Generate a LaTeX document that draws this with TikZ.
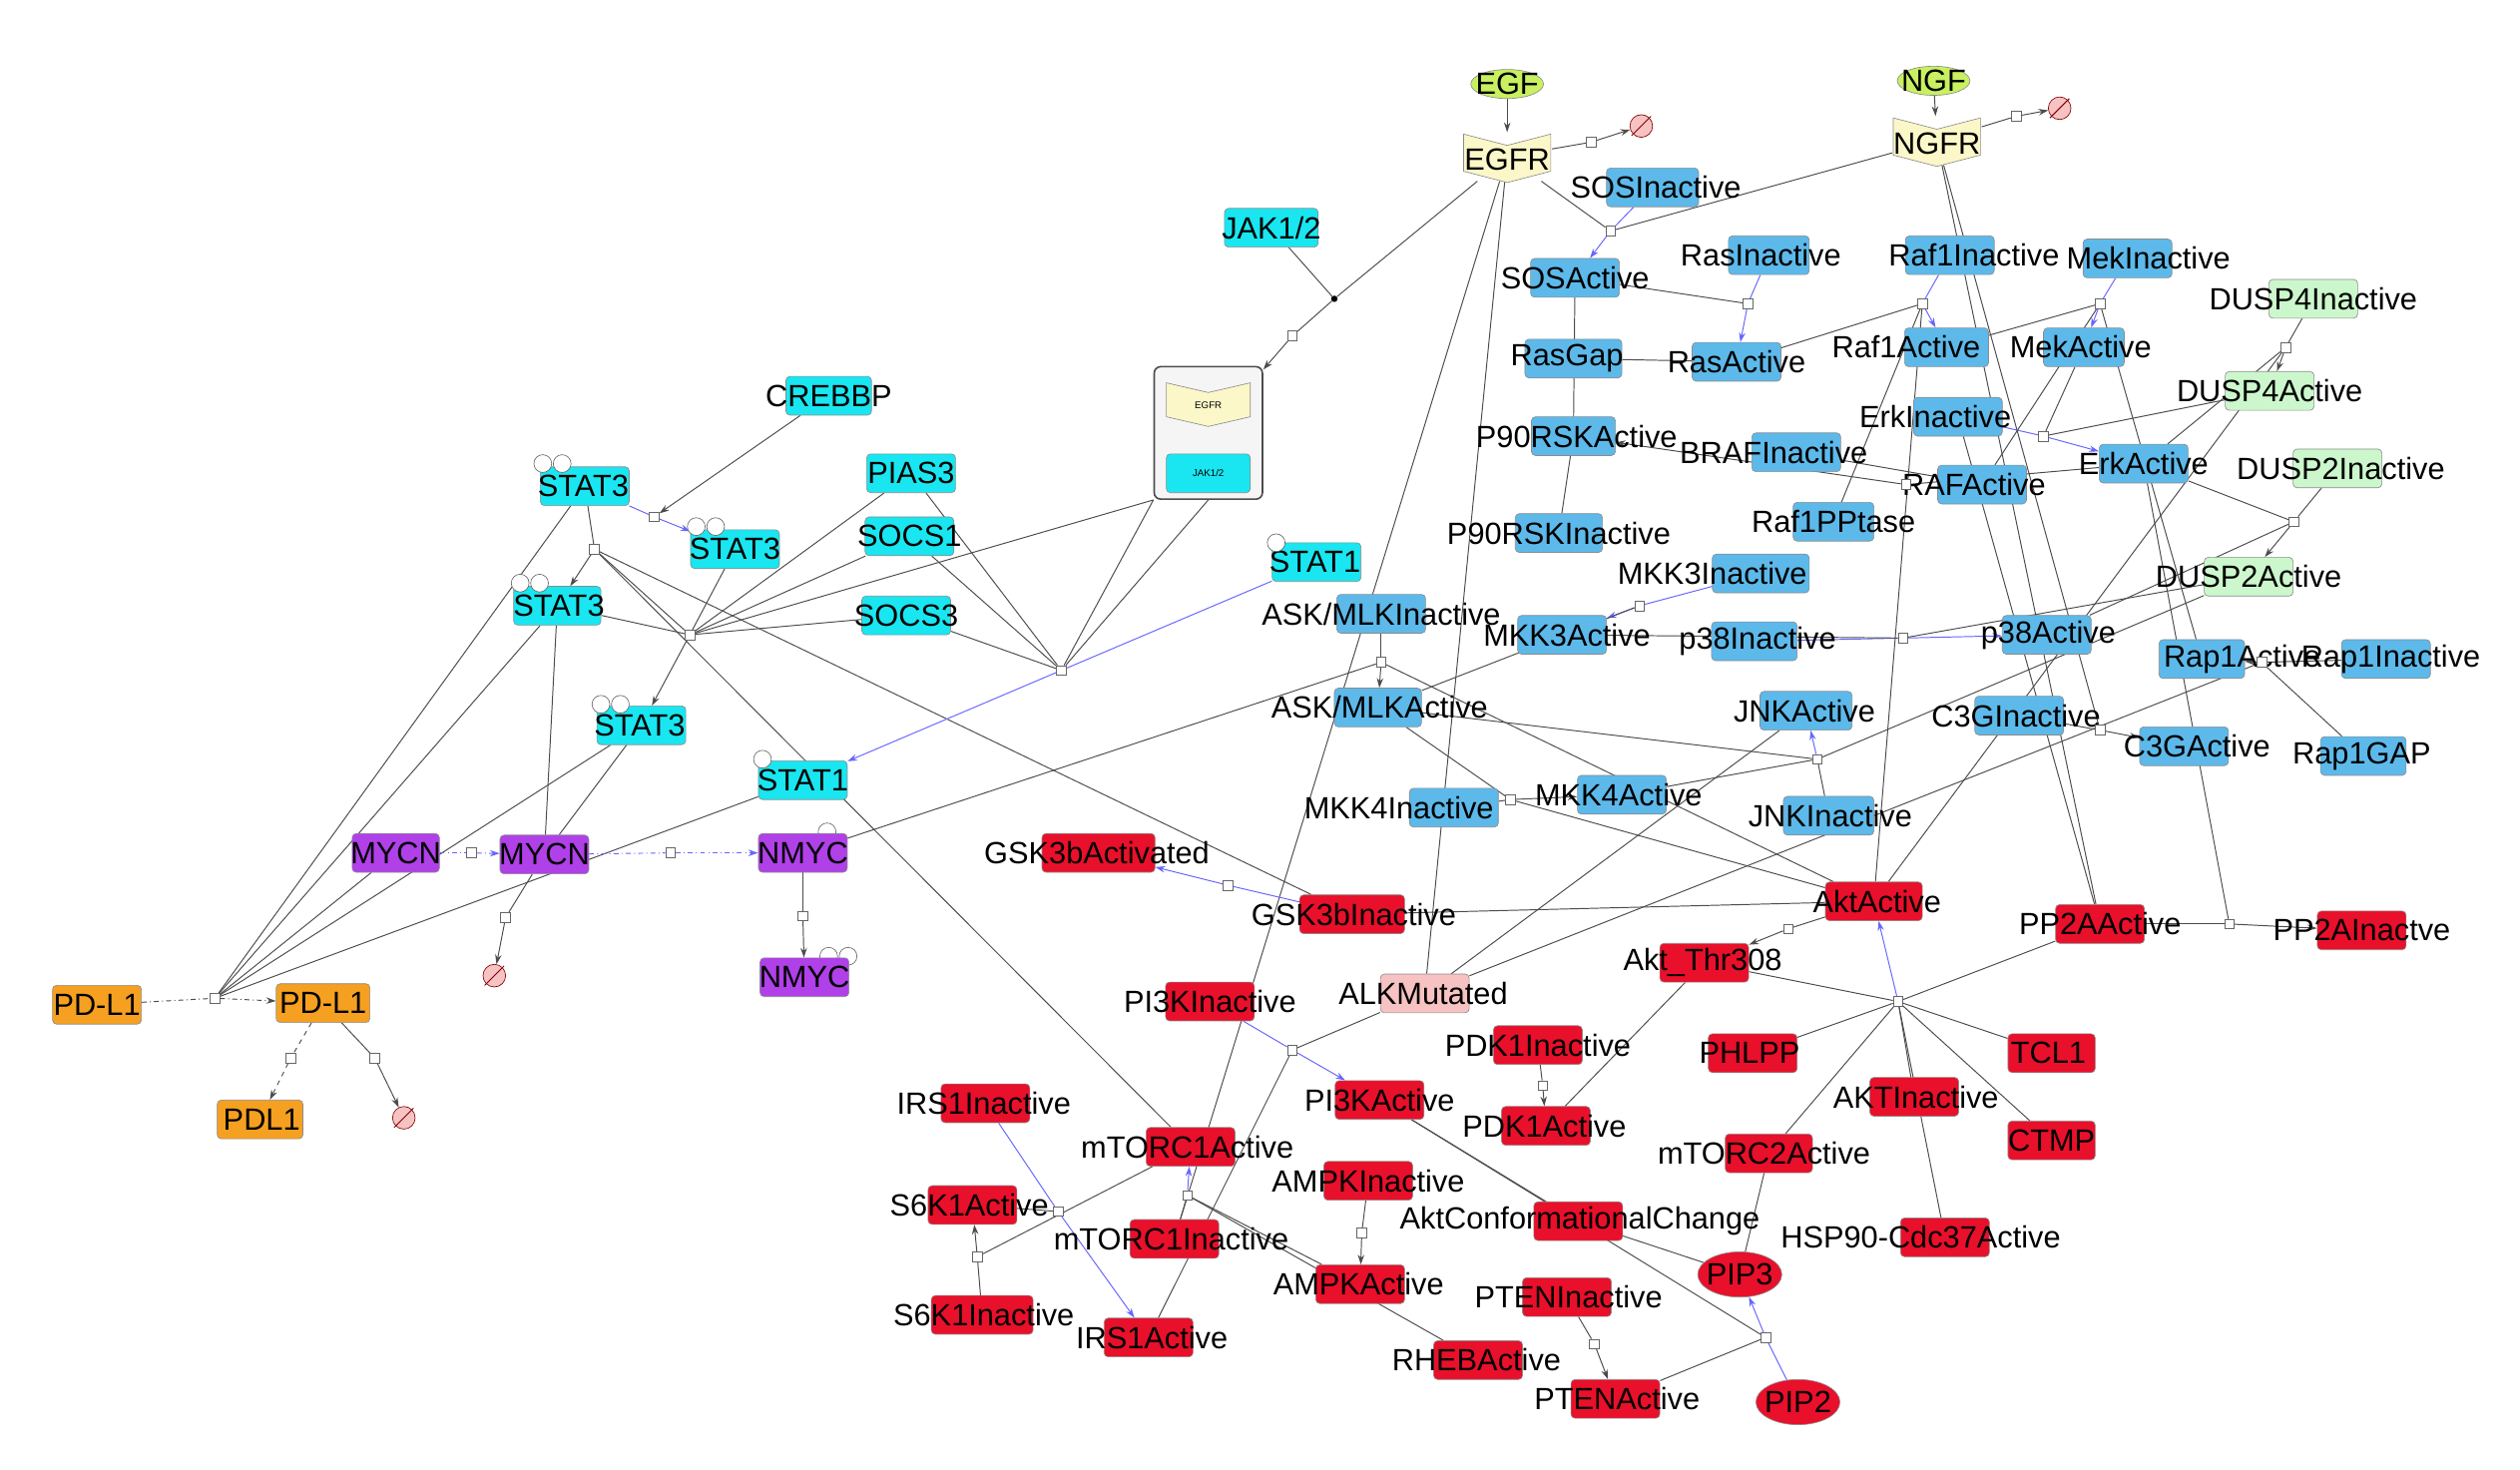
\documentclass[tikz,border=0pt]{standalone}
\usepackage{fontspec}
\setmainfont{Liberation Sans}
\usetikzlibrary{arrows.meta,shapes.geometric,backgrounds}
\definecolor{cy}{HTML}{19E6F0}
\definecolor{lb}{HTML}{5DB9EA}
\definecolor{gr}{HTML}{CCF7CC}
\definecolor{rd}{HTML}{E8102A}
\definecolor{pu}{HTML}{B040E8}
\definecolor{og}{HTML}{F5A020}
\definecolor{pk}{HTML}{F7C2C2}
\definecolor{yl}{HTML}{FBF7C8}
\definecolor{eg}{HTML}{C8F060}
\tikzset{
 box/.style={draw=black!45,rounded corners=2.5pt,minimum height=24pt,inner sep=0pt},
 lbl/.style={font=\fontsize{19}{21}\selectfont,inner sep=0pt},
 proc/.style={draw=black!60,fill=white,minimum size=6pt,inner sep=0pt},
 ln/.style={draw=black!70,line width=0.6pt},
 bl/.style={draw=blue!60,line width=0.6pt},
 ar/.style={-{Stealth[length=6pt,width=4pt]}},
 emp/.style={circle,draw=red!50!black,fill=pk,minimum size=14pt,inner sep=0pt},
}
\newcommand\gn[7]{\node[box,fill=#7,minimum width=#3pt] (#1) at (#2,#4) {};
 \node[lbl] at (#5,#4) {#6};}
\newcommand\pr[3]{\node[proc] (#1) at (#2,#3) {};}
\newcommand\emsym[3]{\node[emp] (#1) at (#2,#3) {}; \draw[red!50!black,line width=0.6pt] ([shift={(-6pt,-6pt)}]#1.center) -- ([shift={(6pt,6pt)}]#1.center);}
\begin{document}
\begin{tikzpicture}[x=1pt,y=-1pt]
\useasboundingbox (0,0) rectangle (1560,910);
% ---------- nodes
\node[ellipse,draw=black!45,fill=eg,minimum width=45pt,minimum height=18pt,inner sep=0] (EGF) at (933,52) {};
\node[lbl] at (933,52) {EGF};
\node[ellipse,draw=black!45,fill=eg,minimum width=45pt,minimum height=18pt,inner sep=0] (NGF) at (1197,50) {};
\node[lbl] at (1197,50) {NGF};
\node[minimum width=55pt,minimum height=30pt,inner sep=0] (EGFR) at (933,97) {};
\draw[draw=black!45,fill=yl] (906,83) -- (933,90) -- (960,83) -- (960,106) -- (933,113) -- (906,106) -- cycle;
\node[lbl] at (933,99) {EGFR};
\node[minimum width=55pt,minimum height=30pt,inner sep=0] (NGFR) at (1199,87) {};
\draw[draw=black!45,fill=yl] (1172,73) -- (1199,80) -- (1226,73) -- (1226,96) -- (1199,103) -- (1172,96) -- cycle;
\node[lbl] at (1199,89) {NGFR};
% complex
\node[draw=black!70,fill=black!4,rounded corners=4pt,line width=1pt,minimum width=67pt,minimum height=82pt,inner sep=0] (CPX) at (748,268) {};
\draw[draw=black!45,fill=yl] (722,237) -- (748,243) -- (774,237) -- (774,258) -- (748,264) -- (722,258) -- cycle;
\node[font=\fontsize{6}{7}\selectfont] at (748,251) {EGFR};
\node[box,fill=cy,minimum width=52pt,minimum height=24pt] at (748,293) {};
\node[font=\fontsize{6}{7}\selectfont] at (748,293) {JAK1/2};
% cyan
\gn{CREBBP}{513}{53}{245}{513}{CREBBP}{cy}
\gn{STATa}{362}{55}{301}{361}{STAT3}{cy}
\gn{STATb}{455}{55}{340}{455}{STAT3}{cy}
\gn{PIAS}{564}{55}{293}{564}{PIAS3}{cy}
\gn{SOCSa}{563}{55}{332}{563}{SOCS1}{cy}
\gn{SOCSb}{561}{55}{381}{561}{SOCS3}{cy}
\gn{STATc}{345}{54}{375}{346}{STAT3}{cy}
\gn{STATd}{397}{55}{449}{396}{STAT3}{cy}
\gn{STATe}{815}{55}{348}{814}{STAT1}{cy}
\gn{STATf}{497}{55}{483}{497}{STAT1}{cy}
\gn{JAK}{787}{58}{141}{787}{JAK1/2}{cy}
\foreach \x/\y in {336/287,348/287,431/326,443/326,322/361,334/361,372/436,384/436,790/336,472/470,512/515,513/592,525/592}
 \draw[black!60,fill=white] (\x,\y) circle (5.5pt);
\gn{MYCNa}{245}{54}{528}{245}{MYCN}{pu}
\gn{MYCNb}{337}{55}{529}{337}{MYCN}{pu}
\gn{NMYCa}{497}{55}{528}{497}{NMYC}{pu}
\gn{NMYCb}{498}{55}{605}{498}{NMYC}{pu}
\gn{PDLa}{60}{55}{622}{60}{PD-L1}{og}
\gn{PDLb}{200}{58}{621}{200}{PD-L1}{og}
\gn{PDLc}{161}{53}{693}{162}{PDL1}{og}
% blue
\gn{SOSI}{1023}{57}{116}{1025}{SOSInactive}{lb}
\gn{SOSA}{975}{55}{172}{975}{SOSActive}{lb}
\gn{RasGap}{974}{60}{222}{970}{RasGap}{lb}
\gn{RasI}{1095}{50}{158}{1090}{RasInactive}{lb}
\gn{Raf1I}{1207}{55}{158}{1222}{Raf1Inactive}{lb}
\gn{MekI}{1317}{55}{160}{1330}{MekInactive}{lb}
\gn{RasA}{1075}{55}{224}{1075}{RasActive}{lb}
\gn{Raf1A}{1205}{52}{215}{1180}{Raf1Active}{lb}
\gn{MekA}{1290}{50}{215}{1288}{MekActive}{lb}
\gn{ErkI}{1212}{55}{258}{1198}{ErkInactive}{lb}
\gn{P90A}{974}{52}{270}{976}{P90RSKActive}{lb}
\gn{BRAFI}{1112}{55}{280}{1098}{BRAFInactive}{lb}
\gn{ErkA}{1327}{55}{287}{1327}{ErkActive}{lb}
\gn{RAFA}{1227}{55}{300}{1222}{RAFActive}{lb}
\gn{Raf1P}{1135}{50}{323}{1135}{Raf1PPtase}{lb}
\gn{P90I}{965}{54}{330}{965}{P90RSKInactive}{lb}
\gn{MKK3I}{1090}{60}{355}{1060}{MKK3Inactive}{lb}
\gn{MKK3A}{967}{55}{393}{970}{MKK3Active}{lb}
\gn{p38I}{1086}{53}{397}{1088}{p38Inactive}{lb}
\gn{p38A}{1267}{55}{393}{1268}{p38Active}{lb}
\gn{ASKI}{855}{55}{380}{855}{ASK/MLKInactive}{lb}
\gn{ASKA}{853}{54}{438}{854}{ASK/MLKActive}{lb}
\gn{JNKA}{1118}{57}{440}{1117}{JNKActive}{lb}
\gn{JNKI}{1132}{56}{505}{1133}{JNKInactive}{lb}
\gn{MKK4I}{900}{55}{500}{866}{MKK4Inactive}{lb}
\gn{MKK4A}{1004}{55}{492}{1002}{MKK4Active}{lb}
\gn{Rap1A}{1363}{53}{408}{1388}{Rap1Active}{lb}
\gn{Rap1I}{1477}{55}{408}{1480}{Rap1Inactive}{lb}
\gn{C3GI}{1250}{55}{443}{1248}{C3GInactive}{lb}
\gn{C3GA}{1352}{55}{462}{1360}{C3GActive}{lb}
\gn{Rap1GAP}{1463}{53}{468}{1462}{Rap1GAP}{lb}
% green
\gn{DUSP4I}{1432}{55}{185}{1432}{DUSP4Inactive}{gr}
\gn{DUSP4A}{1405}{55}{242}{1405}{DUSP4Active}{gr}
\gn{DUSP2I}{1447}{55}{290}{1449}{DUSP2Inactive}{gr}
\gn{DUSP2A}{1392}{55}{357}{1392}{DUSP2Active}{gr}
% red
\gn{GSKA}{680}{70}{528}{679}{GSK3bActivated}{rd}
\gn{GSKI}{837}{65}{566}{838}{GSK3bInactive}{rd}
\gn{ALK}{882}{55}{615}{881}{ALKMutated}{pk}
\gn{AktA}{1160}{60}{558}{1162}{AktActive}{rd}
\gn{PP2AA}{1300}{55}{572}{1300}{PP2AActive}{rd}
\gn{PP2AI}{1462}{55}{576}{1462}{PP2AInactve}{rd}
\gn{Thr}{1055}{55}{596}{1054}{Akt\_Thr308}{rd}
\gn{PI3KI}{749}{55}{620}{749}{PI3KInactive}{rd}
\gn{PDK1I}{952}{55}{647}{952}{PDK1Inactive}{rd}
\gn{PHLPP}{1085}{55}{652}{1083}{PHLPP}{rd}
\gn{TCL1}{1270}{54}{652}{1268}{TCL1}{rd}
\gn{PI3KA}{854}{55}{681}{854}{PI3KActive}{rd}
\gn{PDK1A}{957}{55}{697}{956}{PDK1Active}{rd}
\gn{AKTI}{1185}{55}{679}{1186}{AKTInactive}{rd}
\gn{IRS1I}{610}{55}{683}{609}{IRS1Inactive}{rd}
\gn{mTA}{737}{55}{710}{735}{mTORC1Active}{rd}
\gn{mT2A}{1095}{54}{714}{1092}{mTORC2Active}{rd}
\gn{CTMP}{1270}{54}{706}{1270}{CTMP}{rd}
\gn{AMPKI}{847}{55}{731}{847}{AMPKInactive}{rd}
\gn{S6KA}{602}{55}{746}{600}{S6K1Active}{rd}
\gn{mTI}{727}{55}{767}{725}{mTORC1Inactive}{rd}
\gn{AktC}{977}{55}{756}{978}{AktConformationalChange}{rd}
\gn{HSP}{1204}{55}{766}{1189}{HSP90-Cdc37Active}{rd}
\gn{AMPKA}{842}{55}{795}{841}{AMPKActive}{rd}
\gn{PTENI}{970}{55}{803}{971}{PTENInactive}{rd}
\gn{S6KI}{608}{63}{814}{609}{S6K1Inactive}{rd}
\gn{IRS1A}{711}{55}{828}{713}{IRS1Active}{rd}
\gn{RHEB}{915}{55}{842}{914}{RHEBActive}{rd}
\gn{PTENA}{1000}{55}{866}{1001}{PTENActive}{rd}
\node[ellipse,draw=black!45,fill=rd,minimum width=52pt,minimum height=28pt,inner sep=0] (PIP3) at (1077,789) {};
\node[lbl] at (1077,789) {PIP3};
\node[ellipse,draw=black!45,fill=rd,minimum width=52pt,minimum height=28pt,inner sep=0] (PIP2) at (1113,868) {};
\node[lbl] at (1113,868) {PIP2};
% empty sets
\emsym{E1}{1016}{78}\emsym{E2}{1275}{67}\emsym{E3}{250}{692}\emsym{E4}{306}{604}
% ---------- processes
\pr{pEGF}{985}{88}\pr{pNGF}{1248}{72}
\node[circle,fill=black,minimum size=4pt,inner sep=0] (pJ) at (826,185) {};
\pr{pC}{800}{208}\pr{pS3}{405}{320}\pr{pH}{427}{393}\pr{pL}{368}{340}
\pr{pSt}{657}{415}\pr{pPD}{133}{618}\pr{pPDa}{180}{655}\pr{pPDb}{232}{655}
\pr{pM1}{292}{528}\pr{pM2}{415}{528}\pr{pN}{497}{567}\pr{pM3}{313}{568}
\pr{pSOS}{997}{143}\pr{pRas}{1082}{188}\pr{pRaf}{1190}{188}\pr{pMek}{1300}{188}
\pr{pErk}{1265}{270}\pr{pP90}{1180}{300}\pr{pMKK3}{1015}{375}\pr{pP38}{1178}{395}
\pr{pASK}{855}{410}\pr{pMKK4}{935}{495}\pr{pJNK}{1125}{470}\pr{pRap}{1400}{410}
\pr{pC3G}{1300}{452}\pr{pD4}{1415}{215}\pr{pD2}{1420}{323}\pr{pGSK}{760}{548}
\pr{pThr}{1107}{575}\pr{pPP}{1380}{572}\pr{pAkt}{1175}{620}\pr{pPI}{800}{650}
\pr{pPDK}{955}{672}\pr{pPIP}{1093}{828}\pr{pPT}{987}{832}\pr{pIRS}{655}{750}
\pr{pS6}{605}{778}\pr{pmT}{735}{740}\pr{pAM}{843}{763}
% ---------- connectors
\begin{scope}[on background layer]
\draw[ln,ar] (EGF) -- (EGFR);
\draw[ln,ar] (NGF) -- (NGFR);
\draw[ln] (EGFR) -- (pEGF); \draw[ln,ar] (pEGF) -- (E1);
\draw[ln] (NGFR) -- (pNGF); \draw[ln,ar] (pNGF) -- (E2);
\draw[ln] (JAK) -- (pJ); \draw[ln] (EGFR) -- (pJ); \draw[ln] (pJ) -- (pC); \draw[ln,ar] (pC) -- (CPX);
\draw[ln] (CPX.south west) -- (pH); \draw[ln] (CPX.south west) -- (pSt); \draw[ln] (CPX.south) -- (pSt);
\draw[bl] (STATa) -- (pS3); \draw[bl,ar] (pS3) -- (STATb); \draw[ln,ar] (CREBBP) -- (pS3);
\foreach \n in {PIAS,SOCSa,SOCSb,STATb,STATc} \draw[ln] (\n) -- (pH);
\draw[ln,ar] (pH) -- (STATd);
\draw[ln] (STATa) -- (pL); \draw[ln,ar] (pL) -- (STATc);
\draw[ln] (pL) -- (GSKI); \draw[ln] (pL) -- (mTA); \draw[ln] (pL) -- (pH);
\foreach \n in {PIAS,SOCSa,SOCSb} \draw[ln] (\n) -- (pSt);
\draw[bl] (STATe) -- (pSt); \draw[bl,ar] (pSt) -- (STATf);
\draw[ln,dash dot] (PDLa) -- (pPD); \draw[ln,ar,dash dot] (pPD) -- (PDLb);
\foreach \n in {STATc,STATd,MYCNa,STATf,STATa} \draw[ln] (\n) -- (pPD);
\draw[ln,dashed] (PDLb) -- (pPDa); \draw[ln,ar,dashed] (pPDa) -- (PDLc);
\draw[ln] (PDLb) -- (pPDb); \draw[ln,ar] (pPDb) -- (E3);
\draw[bl,dash dot] (MYCNa) -- (pM1); \draw[bl,ar,dash dot] (pM1) -- (MYCNb);
\draw[bl,dash dot] (MYCNb) -- (pM2); \draw[bl,ar,dash dot] (pM2) -- (NMYCa);
\draw[ln] (MYCNb) -- (pM3); \draw[ln,ar] (pM3) -- (E4);
\draw[ln] (NMYCa) -- (pN); \draw[ln,ar] (pN) -- (NMYCb);
\draw[ln] (STATc) -- (MYCNb); \draw[ln] (STATd) -- (MYCNb);
\draw[ln] (NMYCa) -- (pASK); \draw[ln] (EGFR) -- (mTI); \draw[ln] (EGFR) -- (ALK);
\draw[bl] (SOSI) -- (pSOS); \draw[bl,ar] (pSOS) -- (SOSA); \draw[ln] (EGFR) -- (pSOS); \draw[ln] (NGFR) -- (pSOS);
\draw[ln] (SOSA) -- (pRas); \draw[bl] (RasI) -- (pRas); \draw[bl,ar] (pRas) -- (RasA);
\draw[ln] (RasGap) -- (RasA);
\draw[ln] (RasA) -- (pRaf); \draw[bl] (Raf1I) -- (pRaf); \draw[bl,ar] (pRaf) -- (Raf1A);
\draw[ln] (Raf1A) -- (pMek); \draw[bl] (MekI) -- (pMek); \draw[bl,ar] (pMek) -- (MekA);
\draw[ln] (MekA) -- (pErk); \draw[bl] (ErkI) -- (pErk); \draw[bl,ar] (pErk) -- (ErkA);
\draw[ln] (ErkA) -- (pP90); \draw[ln,ar] (pP90) -- (P90A); \draw[ln] (P90I) -- (P90A);
\draw[ln] (P90A) -- (SOSA); \draw[ln] (BRAFI) -- (RAFA); \draw[ln] (Raf1P) -- (pRaf);
\draw[bl] (MKK3I) -- (pMKK3); \draw[bl,ar] (pMKK3) -- (MKK3A);
\draw[bl] (p38I) -- (pP38); \draw[bl,ar] (pP38) -- (p38A); \draw[ln] (MKK3A) -- (pP38);
\draw[ln] (ASKI) -- (pASK); \draw[ln,ar] (pASK) -- (ASKA);
\draw[ln] (MKK4I) -- (pMKK4); \draw[ln,ar] (pMKK4) -- (MKK4A); \draw[ln] (ASKA) -- (pMKK4);
\draw[ln] (JNKI) -- (pJNK); \draw[bl,ar] (pJNK) -- (JNKA); \draw[ln] (MKK4A) -- (pJNK);
\draw[ln] (ASKA) -- (pMKK3); \draw[ln] (ASKA) -- (pJNK);
\draw[ln] (Rap1I) -- (pRap); \draw[ln,ar] (pRap) -- (Rap1A); \draw[ln] (Rap1GAP) -- (pRap);
\draw[ln] (C3GI) -- (pC3G); \draw[ln,ar] (pC3G) -- (C3GA); \draw[ln] (Rap1A) -- (pMek);
\draw[ln] (DUSP4I) -- (pD4); \draw[ln,ar] (pD4) -- (DUSP4A); \draw[ln] (ErkA) -- (pD4);
\draw[ln] (DUSP2I) -- (pD2); \draw[ln,ar] (pD2) -- (DUSP2A); \draw[ln] (ErkA) -- (pD2);
\draw[ln] (DUSP4A) -- (pErk); \draw[ln] (DUSP2A) -- (pP38); \draw[ln] (DUSP2A) -- (pJNK);
\draw[ln] (RAFA) -- (pMek); \draw[ln] (p38A) -- (pD2); \draw[ln] (NGFR) -- (pC3G);
\draw[ln] (AktA) -- (pRaf); \draw[ln] (AktA) -- (pASK); \draw[ln] (AktA) -- (pMKK4);
\draw[ln] (AktA) -- (GSKI); \draw[bl] (GSKI) -- (pGSK); \draw[bl,ar] (pGSK) -- (GSKA);
\draw[ln] (AktA) -- (pThr); \draw[ln,ar] (pThr) -- (Thr); \draw[ln] (AktA) -- (pD4);
\draw[ln] (PP2AA) -- (pPP); \draw[ln,ar] (pPP) -- (PP2AI); \draw[ln] (PP2AA) -- (NGFR);
\draw[ln] (PP2AA) -- (pAkt); \draw[ln] (ErkI) -- (PP2AA); \draw[ln] (ErkA) -- (pPP);
\foreach \n in {PHLPP,TCL1,CTMP,HSP,mT2A,AKTI} \draw[ln] (\n) -- (pAkt);
\draw[bl,ar] (pAkt) -- (AktA); \draw[ln] (Thr) -- (pAkt);
\draw[bl] (PI3KI) -- (pPI); \draw[bl,ar] (pPI) -- (PI3KA); \draw[ln] (ALK) -- (pPI);
\draw[ln] (ALK) -- (JNKA); \draw[ln] (ALK) -- (pRap);
\draw[ln] (PDK1I) -- (pPDK); \draw[ln,ar] (pPDK) -- (PDK1A); \draw[ln] (PDK1A) -- (Thr);
\draw[bl] (PIP2) -- (pPIP); \draw[bl,ar] (pPIP) -- (PIP3); \draw[ln] (PI3KA) -- (pPIP);
\draw[ln] (PTENI) -- (pPT); \draw[ln,ar] (pPT) -- (PTENA); \draw[ln] (PTENA) -- (pPIP);
\draw[bl] (IRS1I) -- (pIRS); \draw[bl,ar] (pIRS) -- (IRS1A); \draw[ln] (S6KA) -- (pIRS);
\draw[ln] (S6KI) -- (pS6); \draw[ln,ar] (pS6) -- (S6KA); \draw[ln] (mTA) -- (pS6);
\draw[ln] (mTI) -- (pmT); \draw[bl,ar] (pmT) -- (mTA); \draw[ln] (RHEB) -- (pmT);
\draw[ln] (AMPKI) -- (pAM); \draw[ln,ar] (pAM) -- (AMPKA); \draw[ln] (AMPKA) -- (pmT);
\draw[ln] (AktC) -- (PIP3); \draw[ln] (IRS1A) -- (pPI); \draw[ln] (PI3KA) -- (AktC);
\draw[ln] (mT2A) -- (PIP3);
\end{scope}
\end{tikzpicture}
\end{document}
